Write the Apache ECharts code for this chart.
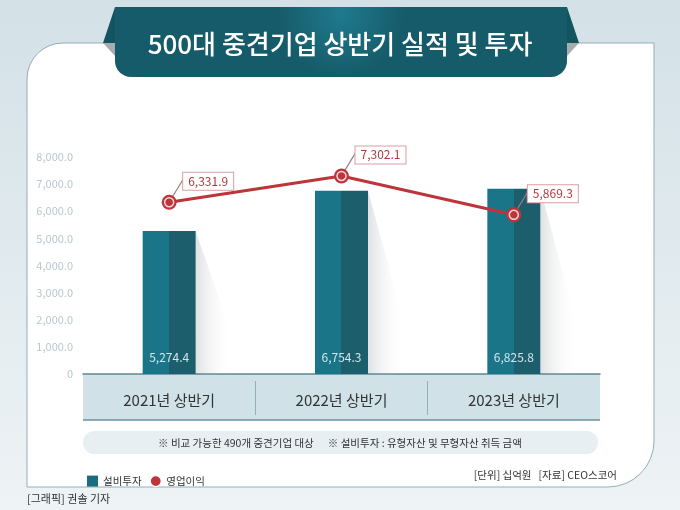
<!DOCTYPE html>
<html>
<head>
<meta charset="utf-8">
<script src="https://cdn.jsdelivr.net/npm/echarts@6/dist/echarts.min.js"></script>
<style>
  html, body { margin: 0; padding: 0; }
  #chart { width: 680px; height: 510px; }
</style>
</head>
<body>
<div id="chart"></div>
<script>
// 데이터
var categories = ['2021년 상반기', '2022년 상반기', '2023년 상반기'];
var capex = [5274.4, 6754.3, 6825.8];          // 설비투자
var operatingProfit = [6331.9, 7302.1, 5869.3]; // 영업이익
var yTicks = [0, 1000, 2000, 3000, 4000, 5000, 6000, 7000, 8000];

var FONT = '"Noto Sans CJK KR", "Noto Sans", sans-serif';
var RED = '#bd343b';

function fmt(v) {
    return v.toLocaleString('en-US', { minimumFractionDigits: 1, maximumFractionDigits: 1 });
}

var chart = echarts.init(document.getElementById('chart'));

var option = {
    animation: false,
    backgroundColor: {
        type: 'linear', x: 0, y: 0, x2: 0, y2: 1,
        colorStops: [{ offset: 0, color: '#d3e1e7' }, { offset: 1, color: '#eef3f5' }]
    },
    textStyle: { fontFamily: FONT },
    grid: { left: 83, right: 80, top: 157, bottom: 136 },
    legend: {
        left: 82, top: 470,
        itemWidth: 11, itemHeight: 11, itemGap: 8,
        textStyle: { fontSize: 10.5, color: '#333', fontFamily: FONT },
        data: [
            { name: '설비투자', icon: 'rect', itemStyle: { color: '#1b6c7e' } },
            { name: '영업이익', icon: 'circle', itemStyle: { color: RED, borderColor: '#fff', borderWidth: 1.2 } }
        ]
    },
    xAxis: {
        type: 'category',
        data: categories,
        axisLine: { lineStyle: { color: '#5e8792', width: 1.5 } },
        axisTick: { show: false },
        axisLabel: { fontSize: 15, color: '#333', margin: 19, fontFamily: FONT }
    },
    yAxis: {
        type: 'value',
        min: yTicks[0],
        max: yTicks[yTicks.length - 1],
        interval: 1000,
        axisLine: { show: false },
        axisTick: { show: false },
        splitLine: { show: false },
        axisLabel: {
            fontSize: 11, color: '#b8c8cf', margin: 10, fontFamily: FONT,
            formatter: function (v) { return v === 0 ? '0' : fmt(v); }
        }
    },
    graphic: [
        // 카드
        {
            type: 'rect', z: -10, silent: true,
            shape: { x: 27, y: 43, width: 627, height: 444, r: [36, 0, 46, 0] },
            style: { fill: '#fff', stroke: '#93aeb7', lineWidth: 1 }
        },
        // 카테고리 띠
        {
            type: 'rect', z: -9, silent: true,
            shape: { x: 83, y: 374, width: 517, height: 46 },
            style: { fill: '#d0e2e8' }
        },
        {
            type: 'line', z: -8, silent: true,
            shape: { x1: 83, y1: 420, x2: 600, y2: 420 },
            style: { stroke: '#6b919b', lineWidth: 1.5 }
        },
        {
            type: 'line', z: -8, silent: true,
            shape: { x1: 255.5, y1: 381, x2: 255.5, y2: 415 },
            style: { stroke: '#8fb0b9', lineWidth: 1 }
        },
        {
            type: 'line', z: -8, silent: true,
            shape: { x1: 427.5, y1: 381, x2: 427.5, y2: 415 },
            style: { stroke: '#8fb0b9', lineWidth: 1 }
        },
        // 주석 띠
        {
            type: 'rect', z: -9, silent: true,
            shape: { x: 83, y: 431, width: 515, height: 23, r: 11.5 },
            style: { fill: '#e7eff2' }
        },
        {
            type: 'text', silent: true,
            style: {
                x: 340, y: 443, text: '※ 비교 가능한 490개 중견기업 대상      ※ 설비투자 : 유형자산 및 무형자산 취득 금액',
                fill: '#333', font: '10.5px ' + FONT, align: 'center', verticalAlign: 'middle'
            }
        },
        {
            type: 'text', silent: true,
            style: {
                x: 617, y: 475, text: '[단위] 십억원   [자료] CEO스코어',
                fill: '#333', font: '10.5px ' + FONT, align: 'right', verticalAlign: 'middle'
            }
        },
        {
            type: 'text', silent: true,
            style: {
                x: 27, y: 499, text: '[그래픽] 권솔 기자',
                fill: '#333', font: '11px ' + FONT, align: 'left', verticalAlign: 'middle'
            }
        },
        // 제목 리본
        {
            type: 'polygon', silent: true, z: 5,
            shape: { points: [[115, 7], [103, 43], [115, 43]] },
            style: { fill: '#14545f' }
        },
        {
            type: 'polygon', silent: true, z: 5,
            shape: { points: [[103, 43], [115, 43], [115, 56]] },
            style: { fill: '#a7acae' }
        },
        {
            type: 'polygon', silent: true, z: 5,
            shape: { points: [[567, 7], [579, 43], [567, 43]] },
            style: { fill: '#14545f' }
        },
        {
            type: 'polygon', silent: true, z: 5,
            shape: { points: [[579, 43], [567, 43], [567, 56]] },
            style: { fill: '#a7acae' }
        },
        {
            type: 'rect', silent: true, z: 6,
            shape: { x: 115, y: 7, width: 452, height: 70, r: [0, 0, 16, 16] },
            style: {
                fill: {
                    type: 'radial', x: 0.5, y: 0.1, r: 0.9,
                    colorStops: [{ offset: 0, color: '#1f7a8e' }, { offset: 1, color: '#165b69' }]
                }
            }
        },
        {
            type: 'text', silent: true, z: 7,
            style: {
                x: 340, y: 44, text: '500대 중견기업 상반기 실적 및 투자',
                fill: '#fff', font: '500 26px ' + FONT, align: 'center', verticalAlign: 'middle'
            }
        }
    ],
    series: [
        {
            // 막대 그림자
            type: 'custom',
            z: 1,
            silent: true,
            data: capex,
            renderItem: function (params, api) {
                var top = api.coord([api.value(0), api.value(1)]);
                var base = api.coord([api.value(0), 0]);
                var xr = top[0] + 26.5;
                var h = base[1] - top[1];
                return {
                    type: 'polygon',
                    shape: { points: [[xr, top[1]], [xr + 36, top[1] + h * 0.72], [xr + 36, base[1]], [xr, base[1]]] },
                    style: {
                        fill: {
                            type: 'linear', x: 0, y: 0, x2: 1, y2: 0,
                            colorStops: [
                                { offset: 0, color: 'rgba(110,120,125,0.22)' },
                                { offset: 1, color: 'rgba(255,255,255,0)' }
                            ]
                        }
                    }
                };
            },
            encode: { x: 0, y: 1 }
        },
        {
            name: '설비투자',
            type: 'bar',
            z: 2,
            data: capex,
            barWidth: 53,
            itemStyle: {
                color: {
                    type: 'linear', x: 0, y: 0, x2: 1, y2: 0,
                    colorStops: [
                        { offset: 0, color: '#1b7589' },
                        { offset: 0.5, color: '#1b7589' },
                        { offset: 0.5, color: '#1d5e6d' },
                        { offset: 1, color: '#1d5e6d' }
                    ]
                }
            },
            label: {
                show: true,
                position: 'insideBottom',
                distance: 11,
                color: '#cfe7ed',
                fontSize: 12,
                fontFamily: FONT,
                formatter: function (p) { return fmt(p.value); }
            }
        },
        {
            // 라벨 지시선
            type: 'custom',
            z: 3,
            silent: true,
            data: operatingProfit,
            renderItem: function (params, api) {
                var p = api.coord([api.value(0), api.value(1)]);
                return {
                    type: 'line',
                    shape: { x1: p[0] + 3, y1: p[1] - 5, x2: p[0] + 14, y2: p[1] - 23 },
                    style: { stroke: '#9d7d80', lineWidth: 1.2 }
                };
            },
            encode: { x: 0, y: 1 }
        },
        {
            name: '영업이익',
            type: 'line',
            z: 4,
            data: operatingProfit,
            symbol: 'circle',
            symbolSize: 15,
            lineStyle: { color: RED, width: 3 },
            itemStyle: { color: RED },
            label: {
                show: true,
                position: 'inside',
                backgroundColor: '#fff',
                borderColor: '#d99ea2',
                borderWidth: 1,
                padding: [3, 5, 2, 5],
                color: '#b0393f',
                fontSize: 12,
                fontFamily: FONT,
                formatter: function (p) { return fmt(p.value); }
            },
            labelLayout: { dx: 39, dy: -21 }
        },
        {
            // 표식 안쪽 링
            type: 'scatter',
            z: 5,
            silent: true,
            data: operatingProfit,
            symbolSize: 9,
            itemStyle: { color: RED, borderColor: '#fff', borderWidth: 1.5 }
        }
    ]
};

chart.setOption(option);
</script>
</body>
</html>
